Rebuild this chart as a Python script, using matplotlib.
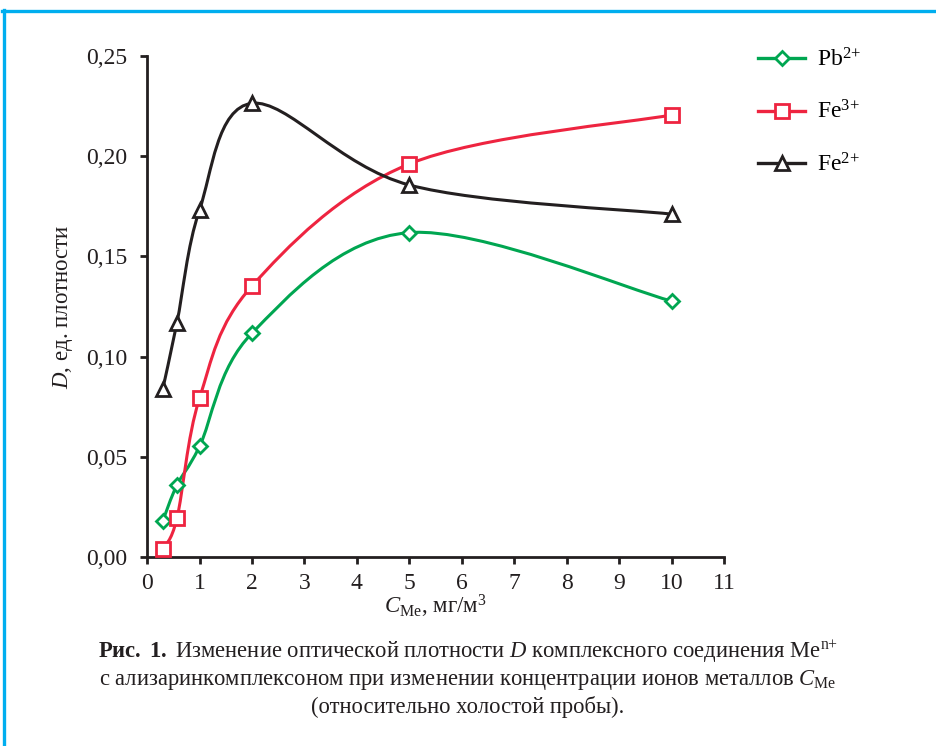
import matplotlib
matplotlib.use("Agg")
import matplotlib.pyplot as plt
import numpy as np
from matplotlib.path import Path
from matplotlib.patches import PathPatch
from matplotlib.lines import Line2D
from matplotlib.ticker import FuncFormatter

plt.rcParams['font.family'] = ['Liberation Serif', 'DejaVu Serif']
plt.rcParams['mathtext.fontset'] = 'custom'
plt.rcParams['mathtext.rm'] = 'Liberation Serif'
plt.rcParams['mathtext.it'] = 'Liberation Serif:italic'
plt.rcParams['mathtext.bf'] = 'Liberation Serif:bold'

# data
conc = [0.3, 0.57, 1, 2, 5, 10]
pb2 = [0.0182, 0.0361, 0.0553, 0.1117, 0.1618, 0.1277]
fe3 = [0.0042, 0.0195, 0.0793, 0.1352, 0.1960, 0.2204]
fe2 = [0.0839, 0.1169, 0.1731, 0.2262, 0.1855, 0.1710]

series_names = [r'Pb$^{2{+}}$', r'Fe$^{3{+}}$', r'Fe$^{2{+}}$']
series_vals = [pb2, fe3, fe2]
colors = ['#00A651', '#EE2440', '#231F20']
markers = ['D', 's', '^']
msizes = [7.5, 10, 9.5]

x_ticks = list(range(0, 12))
y_ticks = [0.0, 0.05, 0.10, 0.15, 0.20, 0.25]


def smooth_path(xs, ys):
    """Catmull-Rom style bezier path through the points (Excel-like smoothing)."""
    pts = np.column_stack([xs, ys]).astype(float)
    ext = np.vstack([pts[0], pts, pts[-1]])
    verts = [pts[0]]
    codes = [Path.MOVETO]
    for i in range(len(pts) - 1):
        p0, p1, p2, p3 = ext[i], ext[i + 1], ext[i + 2], ext[i + 3]
        c1 = p1 + (p2 - p0) / 6.0
        c2 = p2 - (p3 - p1) / 6.0
        verts += [c1, c2, p2]
        codes += [Path.CURVE4] * 3
    return Path(verts, codes)


fig = plt.figure(figsize=(9.36, 7.46), dpi=100)
ax = fig.add_axes([0.1571, 0.2527, 0.6165, 0.6729])

handles = []
for name, vals, col, mk, ms in zip(series_names, series_vals, colors, markers, msizes):
    ax.add_patch(PathPatch(smooth_path(conc, vals), facecolor='none',
                           edgecolor=col, lw=2.2, zorder=2))
    ax.plot(conc, vals, linestyle='none', marker=mk, markersize=ms,
            markerfacecolor='white', markeredgecolor=col, markeredgewidth=2.0, zorder=3)
    handles.append(Line2D([], [], color=col, lw=2.4, marker=mk, markersize=ms,
                          markerfacecolor='white', markeredgecolor=col,
                          markeredgewidth=2.0, label=name))

ax.set_xlim(0, 11)
ax.set_ylim(0, 0.25)
ax.set_xticks(x_ticks)
ax.set_yticks(y_ticks)
ax.yaxis.set_major_formatter(FuncFormatter(lambda v, p: f"{v:.2f}".replace('.', ',')))

for s in ['top', 'right']:
    ax.spines[s].set_visible(False)
for s in ['left', 'bottom']:
    ax.spines[s].set_linewidth(2.0)
    ax.spines[s].set_color('#231F20')

ax.tick_params(axis='both', direction='out', length=5, width=2.0, color='#231F20',
               labelsize=17, labelcolor='#231F20')
ax.tick_params(axis='y', pad=9)
ax.tick_params(axis='x', pad=6)

fig.text(0.4654, 0.1877, r'$C_{\mathrm{Me}}$, мг/м$^3$', ha='center', va='center',
         fontsize=16.5, color='#231F20')
fig.text(0.067, 0.589, r'$D$, ед. плотности', ha='center', va='center',
         rotation=90, fontsize=16.5, color='#231F20')

leg = fig.legend(handles=handles, loc='upper left', bbox_to_anchor=(0.8, 0.948),
                 frameon=False, fontsize=17, handlelength=2.0, handletextpad=0.5,
                 labelspacing=1.24, borderaxespad=0)

caption = [
    r'$\mathbf{Рис.\ 1.}$ Изменение оптической плотности $D$ комплексного соединения Me$^{\mathrm{n{+}}}$',
    r'с ализаринкомплексоном при изменении концентрации ионов металлов $C_{\mathrm{Me}}$',
    '(относительно холостой пробы).',
]
for i, line in enumerate(caption):
    fig.text(0.5, 0.1262 - i * 0.0372, line, ha='center', va='center',
             fontsize=16.3, color='#231F20')

# blue frame (left and top edges)
fig.add_artist(Line2D([0.0045, 0.0045], [0.0, 0.986], transform=fig.transFigure,
                      color='#00AEEF', lw=2.4))
fig.add_artist(Line2D([0.0025, 1.0], [0.985, 0.985], transform=fig.transFigure,
                      color='#00AEEF', lw=2.4))

fig.savefig('out.png', dpi=100)
